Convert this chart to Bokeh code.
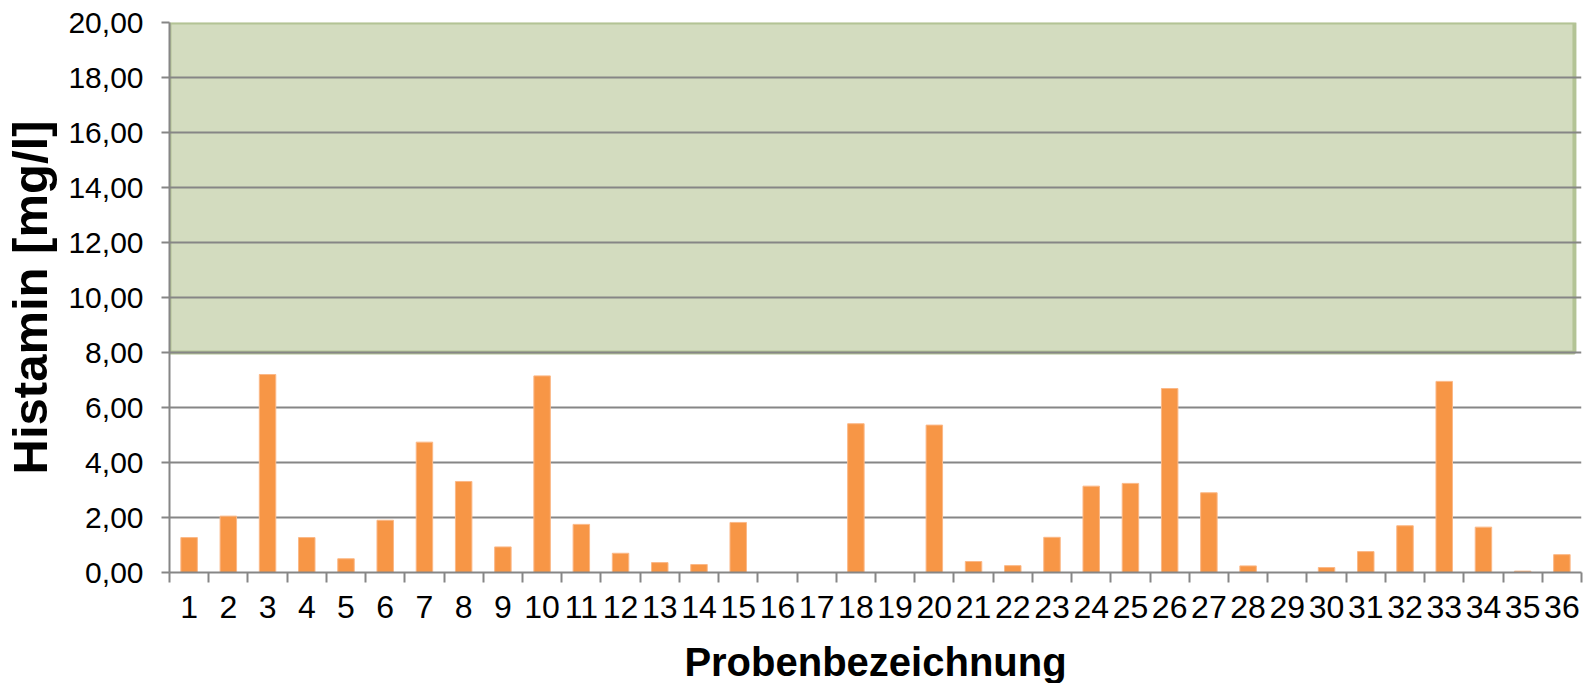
from bokeh.plotting import figure
from bokeh.models import FixedTicker, Range1d, ColumnDataSource
from bokeh.embed import file_html
from bokeh.resources import INLINE

# ---- data ----
samples = list(range(1, 37))
histamin = [1.27, 2.05, 7.20, 1.27, 0.50, 1.90, 4.74, 3.31, 0.93, 7.15,
            1.75, 0.70, 0.36, 0.29, 1.82, 0.00, 0.00, 5.41, 0.00, 5.36,
            0.40, 0.25, 1.28, 3.14, 3.24, 6.69, 2.90, 0.24, 0.00, 0.18,
            0.76, 1.70, 6.95, 1.65, 0.05, 0.65]
y_ticks = [0, 2, 4, 6, 8, 10, 12, 14, 16, 18, 20]
band_low, band_high = 8, 20          # shaded reference range
band_left, band_right = 0.5, 36.32   # extent of shaded box along the category axis

x_title = "Probenbezeichnung"
y_title = "Histamin [mg/l]"

FONT = "Liberation Sans"
GRID = "#868686"

p = figure(frame_width=1412, frame_height=550,
           min_border_left=168, min_border_right=7, min_border_top=22, min_border_bottom=0,
           x_range=Range1d(0.5, 36.5), y_range=Range1d(0, 20),
           output_backend="svg", toolbar_location=None, tools="")
p.outline_line_color = None
p.background_fill_color = "white"
p.border_fill_color = "white"

# shaded band (drawn beneath the grid)
p.quad(left=[band_left], right=[band_right], bottom=[band_low], top=[band_high],
       fill_color="#d3dcbf", line_color="#b3c395", line_width=4, level="image")

src = ColumnDataSource(dict(x=samples, top=histamin))
p.vbar(x="x", top="top", width=0.42, bottom=0, source=src,
       fill_color="#f79646", line_color="#fbb887", line_width=1)

# grid
p.xgrid.visible = False
p.ygrid.grid_line_color = GRID
p.ygrid.grid_line_width = 2
p.ygrid.ticker = FixedTicker(ticks=y_ticks)

# y axis
ya = p.yaxis[0]
ya.ticker = FixedTicker(ticks=y_ticks)
ya.major_label_overrides = {t: f"{t:.2f}".replace(".", ",") for t in y_ticks}
ya.axis_line_color = GRID
ya.axis_line_width = 2
ya.major_tick_line_color = GRID
ya.major_tick_line_width = 2
ya.major_tick_out = 8
ya.major_tick_in = 0
ya.minor_tick_line_color = None
ya.major_label_text_font = FONT
ya.major_label_text_font_size = "30px"
ya.major_label_text_color = "black"
ya.major_label_standoff = 18
ya.axis_label = y_title
ya.axis_label_text_font = FONT
ya.axis_label_text_font_style = "bold"
ya.axis_label_text_font_size = "49px"
ya.axis_label_text_color = "black"
ya.axis_label_standoff = 8

# x axis: labels at centres, ticks at category boundaries
xa = p.xaxis[0]
xa.ticker = FixedTicker(ticks=samples, minor_ticks=[s - 0.5 for s in samples] + [samples[-1] + 0.5])
xa.axis_line_color = GRID
xa.axis_line_width = 2
xa.major_tick_out = 0
xa.major_tick_in = 0
xa.major_tick_line_color = None
xa.minor_tick_out = 10
xa.minor_tick_in = 0
xa.minor_tick_line_color = GRID
xa.minor_tick_line_width = 2
xa.major_label_text_font = FONT
xa.major_label_text_font_size = "32px"
xa.major_label_text_color = "black"
xa.major_label_standoff = 13
xa.axis_label = x_title
xa.axis_label_text_font = FONT
xa.axis_label_text_font_style = "bold"
xa.axis_label_text_font_size = "40px"
xa.axis_label_text_color = "black"
xa.axis_label_standoff = 19

open("out.html", "w").write(file_html(p, INLINE))
